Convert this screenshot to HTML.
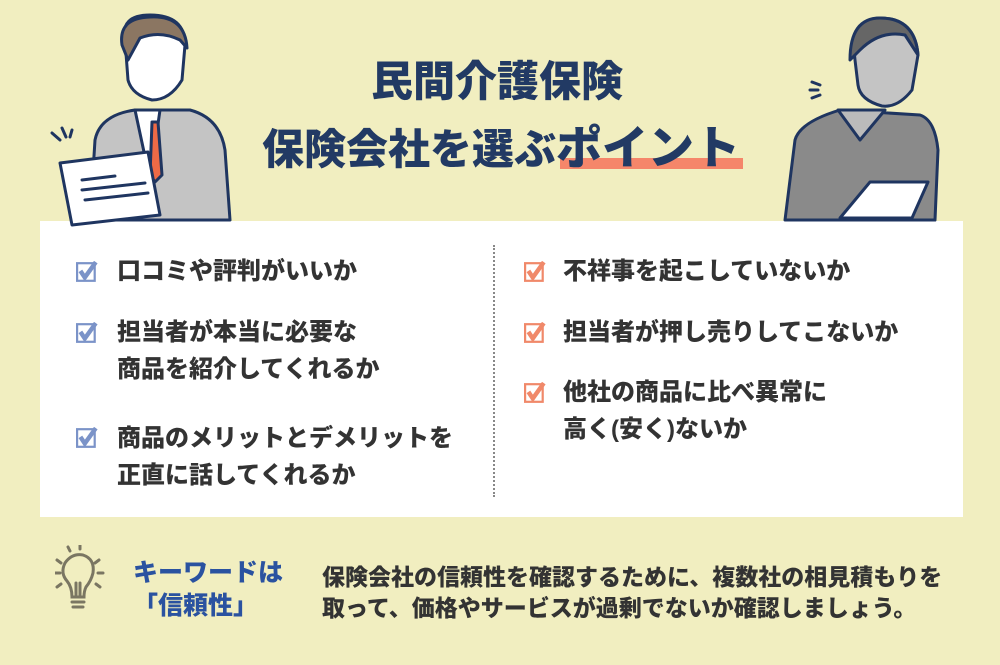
<!DOCTYPE html>
<html><head><meta charset="utf-8"><style>
body{margin:0;width:1000px;height:665px;background:#f1eec0;position:relative;overflow:hidden;font-family:"Liberation Sans","Noto Sans CJK JP",sans-serif;font-weight:900}
.a{position:absolute;white-space:nowrap}
.t{color:#223a64;font-size:42px;font-weight:900}
.it{font-size:24px;color:#333;line-height:37px}
.cb{position:absolute;width:22px;height:22px}
.p{font-family:"Noto Sans CJK JP",sans-serif;display:inline-block;width:13px;overflow:visible}
</style></head><body>
<div class="a" style="left:40px;top:221px;width:923px;height:296px;background:#fff"></div>
<div class="a" style="left:493px;top:245px;height:252px;border-left:2px dotted #888"></div>
<div class="a" style="left:560px;top:158px;width:183px;height:11px;background:#f5866a"></div>
<div class="a t" style="left:371px;top:48px">民間介護保険</div>
<div class="a t" style="left:262px;top:112px">保険会社を選ぶ<span style="font-size:46px;position:relative;top:0px">ポイント</span></div>

<svg class="a" style="left:0;top:0" width="1000" height="240">
 <g stroke="#1f3560" stroke-width="3" stroke-linejoin="round" stroke-linecap="round">
  <path d="M90 220 L95 140 Q100 115 135 110 L190 110 Q220 118 225 150 L230 220Z" fill="#c4c4c4"/>
  <path d="M135 110 L150 180 L160 110Z" fill="#fff"/>
  <path d="M152 122 L158 122 L162 175 L155 182 L150 175Z" fill="#ee6a46"/>
  <path d="M125 40 Q120 15 150 15 Q185 15 185 45 L182 80 Q170 100 152 100 Q132 95 128 80Z" fill="#fff"/>
  <path d="M122 45 Q118 18 150 17 Q185 15 187 48 L180 40 Q160 30 140 38 L128 60Z" fill="#8b7662"/>
  <path d="M60 163 L148 152 L160 215 L72 225Z" fill="#fff"/>
  <path d="M82 180 L115 176 M82 190 L145 183 M85 200 L148 193" />
  <path d="M52 133 L60 140 M62 128 L66 137 M72 130 L70 137"/>
  <path d="M855 60 Q850 20 880 18 Q915 18 918 55 L912 90 Q898 108 882 106 Q860 100 858 85Z" fill="#c4c4c4"/>
  <path d="M850 60 Q850 18 880 18 Q915 18 918 55 L905 35 Q880 30 860 50Z" fill="#666"/>
  <path d="M785 220 L795 140 Q800 122 840 110 L920 115 Q935 120 938 150 L935 220Z" fill="#8a8a8a"/>
  <path d="M838 110 L860 140 L885 110Z" fill="#bbb"/>
  <path d="M840 218 L870 182 L928 182 L912 218Z" fill="#fff"/>
  <path d="M812 82 L820 85 M810 90 L818 90 M812 98 L820 95"/>
 </g>
</svg>

<svg class="cb" style="left:76px;top:261px" viewBox="0 0 20 20"><rect x="1" y="2" width="16" height="16" fill="none" stroke="#7b93c8" stroke-width="2"/><path d="M4 9 L8 15 L18 1" fill="none" stroke="#7b93c8" stroke-width="4"/></svg>
<svg class="cb" style="left:76px;top:322px" viewBox="0 0 20 20"><rect x="1" y="2" width="16" height="16" fill="none" stroke="#7b93c8" stroke-width="2"/><path d="M4 9 L8 15 L18 1" fill="none" stroke="#7b93c8" stroke-width="4"/></svg>
<svg class="cb" style="left:76px;top:427px" viewBox="0 0 20 20"><rect x="1" y="2" width="16" height="16" fill="none" stroke="#7b93c8" stroke-width="2"/><path d="M4 9 L8 15 L18 1" fill="none" stroke="#7b93c8" stroke-width="4"/></svg>
<svg class="cb" style="left:524px;top:261px" viewBox="0 0 20 20"><rect x="1" y="2" width="16" height="16" fill="none" stroke="#f0896a" stroke-width="2"/><path d="M4 9 L8 15 L18 1" fill="none" stroke="#f0896a" stroke-width="4"/></svg>
<svg class="cb" style="left:524px;top:322px" viewBox="0 0 20 20"><rect x="1" y="2" width="16" height="16" fill="none" stroke="#f0896a" stroke-width="2"/><path d="M4 9 L8 15 L18 1" fill="none" stroke="#f0896a" stroke-width="4"/></svg>
<svg class="cb" style="left:524px;top:382px" viewBox="0 0 20 20"><rect x="1" y="2" width="16" height="16" fill="none" stroke="#f0896a" stroke-width="2"/><path d="M4 9 L8 15 L18 1" fill="none" stroke="#f0896a" stroke-width="4"/></svg>

<div class="a it" style="left:117px;top:253px">口コミや評判がいいか</div>
<div class="a it" style="left:117px;top:314px">担当者が本当に必要な<br>商品を紹介してくれるか</div>
<div class="a it" style="left:117px;top:420px">商品のメリットとデメリットを<br>正直に話してくれるか</div>
<div class="a it" style="left:563px;top:253px">不祥事を起こしていないか</div>
<div class="a it" style="left:563px;top:314px">担当者が押し売りしてこないか</div>
<div class="a it" style="left:563px;top:374px">他社の商品に比べ異常に<br>高く(安く)ないか</div>

<svg class="a" style="left:55px;top:545px" width="50" height="70"><g stroke="#7a7662" stroke-width="3" fill="none" stroke-linecap="round">
<path d="M17 52 Q17 42 12 36 Q5 28 10 18 Q17 8 28 10 Q40 14 38 28 Q36 36 31 42 Q29 46 29 52Z"/>
<path d="M17 57 H29 M18 62 H28 M21 52 V38 M25 52 V38"/>
<path d="M2 15 L6 18 M0 28 H5 M2 42 L6 39 M44 15 L40 18 M48 28 H43 M45 42 L41 39 M13 2 L15 6 M25 0 V4"/></g></svg>
<div class="a" style="left:133px;top:557px;font-size:25px;color:#2a52a0;line-height:33px">キーワードは<br>「信頼性」</div>
<div class="a" style="left:322px;top:562px;font-size:23px;color:#333;line-height:31px">保険会社の信頼性を確認するために、複数社の相見積もりを<br>取って、価格やサービスが過剰でないか確認しましょう。</div>
</body></html>
